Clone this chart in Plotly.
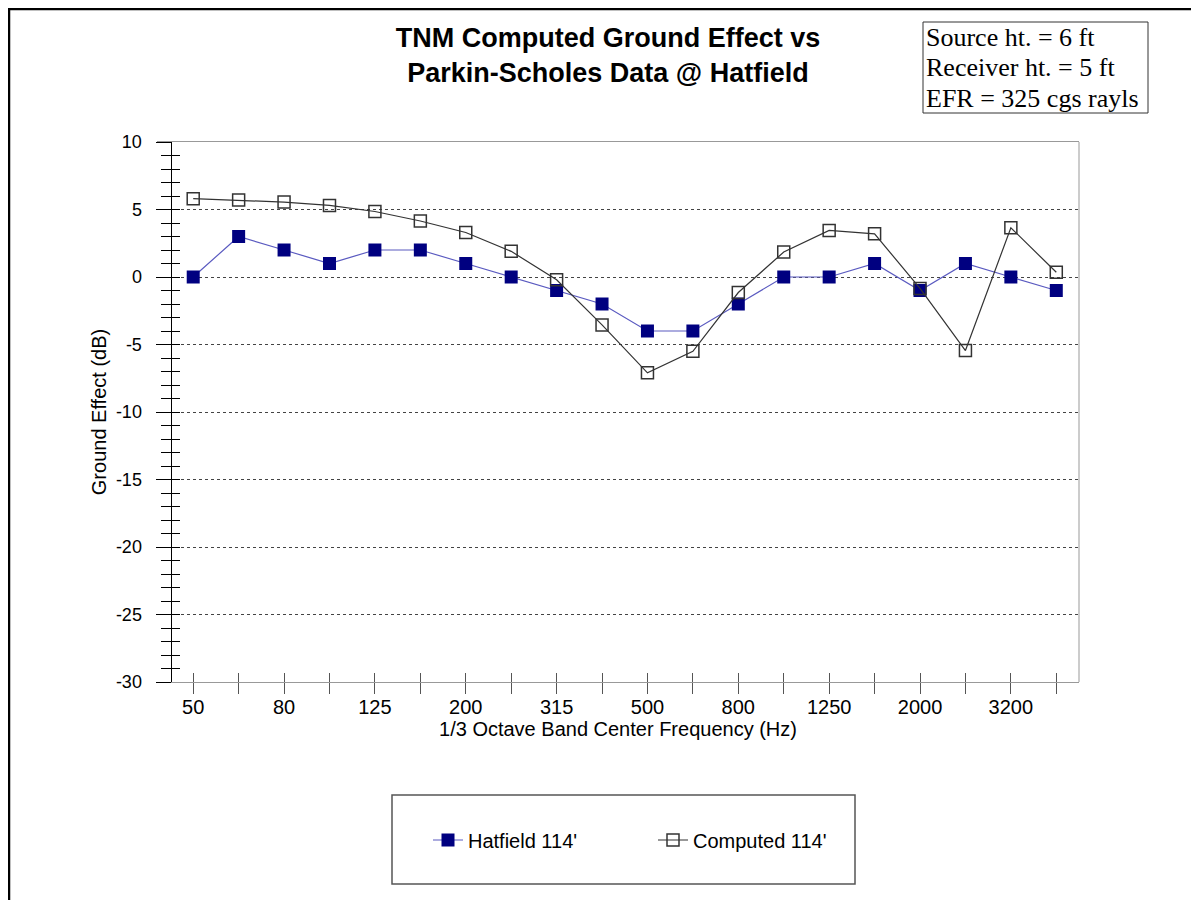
import plotly.graph_objects as go

freqs = ["50", "63", "80", "100", "125", "160", "200", "250", "315", "400",
         "500", "630", "800", "1000", "1250", "1600", "2000", "2500", "3200", "4000"]
tick_labels = ["50", "", "80", "", "125", "", "200", "", "315", "",
               "500", "", "800", "", "1250", "", "2000", "", "3200", ""]
hatfield = [0, 3, 2, 1, 2, 2, 1, 0, -1, -2, -4, -4, -2, 0, 0, 1, -1, 1, 0, -1]
computed = [5.8, 5.7, 5.55, 5.3, 4.85, 4.15, 3.3, 1.9, -0.2, -3.55,
            -7.1, -5.5, -1.15, 1.85, 3.45, 3.2, -0.85, -5.45, 3.65, 0.35]
y_major = [-30, -25, -20, -15, -10, -5, 0, 5, 10]
y_major_text = ["-30", "-25", "-20", "-15", "-10", "-5", "0", "5", "10"]
info_lines = ["Source ht. = 6 ft", "Receiver ht. = 5 ft", "EFR = 325 cgs rayls"]

# the page adds an 8px body margin, so the figure starts at page (8, 8)
OFF = 8
FIG_W, FIG_H = 1199 - OFF, 900 - OFF
# plot area in page pixels
L, R, T, B = 157, 1079, 142, 682
W, H = R - L, B - T
def px(x):
    return (x - L) / W
def py(y):
    return (B - y) / H

FONT = "Arial, Liberation Sans, sans-serif"
SERIF = "Liberation Serif, Times New Roman, serif"

fig = go.Figure()
fig.add_trace(go.Scatter(
    x=freqs, y=hatfield, name="Hatfield 114'", mode="lines+markers",
    line=dict(color="#5a5ac0", width=1.2),
    marker=dict(symbol="square", size=13, color="#000080",
                line=dict(color="#000080", width=0)),
))
fig.add_trace(go.Scatter(
    x=freqs, y=computed, name="Computed 114'", mode="lines+markers",
    line=dict(color="#333333", width=1.2),
    marker=dict(symbol="square-open", size=12, color="#333333",
                line=dict(width=1.5)),
))
# dummy trace for the overlay axes (inside tick marks)
fig.add_trace(go.Scatter(x=freqs, y=[None] * len(freqs), xaxis="x2", yaxis="y2",
                         showlegend=False, hoverinfo="skip", mode="lines"))

cat_w = W / 20.3
xr = [-0.5 - 13.5 / cat_w, 19.5]
yaxis_x = px(170.5)

fig.update_layout(
    width=FIG_W, height=FIG_H,
    paper_bgcolor="white", plot_bgcolor="white",
    margin=dict(l=L - OFF, r=FIG_W - (R - OFF), t=T - OFF, b=FIG_H - (B - OFF)),
    font=dict(family=FONT, size=20, color="black"),
    title=dict(text="<b>TNM Computed Ground Effect vs<br>Parkin-Scholes Data @ Hatfield</b>",
               x=px(608), xref="paper", xanchor="center",
               y=1 - (47 - OFF) / FIG_H, yref="container", yanchor="middle",
               font=dict(family=FONT, size=27, color="black")),
    xaxis=dict(type="category", categoryarray=freqs, range=xr,
               tickmode="array", tickvals=freqs, ticktext=tick_labels,
               ticks="outside", ticklen=11, tickcolor="#555", tickwidth=1,
               showline=True, linecolor="#999", linewidth=1, mirror=True,
               showgrid=False, zeroline=False,
               tickfont=dict(size=20), ticklabelstandoff=-4,
               title=dict(text="1/3 Octave Band Center Frequency (Hz)",
                          font=dict(size=20), standoff=2)),
    xaxis2=dict(type="category", categoryarray=freqs, range=xr, overlaying="x",
                anchor="y", side="bottom",
                tickmode="array", tickvals=freqs, ticktext=[""] * len(freqs),
                ticks="inside", ticklen=9, tickcolor="#555", tickwidth=1,
                showline=False, showgrid=False, zeroline=False),
    yaxis=dict(range=[-30, 10], tickmode="array", tickvals=y_major, ticktext=y_major_text,
               anchor="free", position=yaxis_x,
               ticks="outside", ticklen=15, tickcolor="black", tickwidth=1,
               minor=dict(dtick=1, ticks="outside", ticklen=10, tickcolor="black",
                          showgrid=False),
               showline=True, linecolor="black", linewidth=1,
               showgrid=True, gridcolor="#444", griddash="3px,3px", gridwidth=1,
               zeroline=False, tickfont=dict(size=18), ticklabelstandoff=10,
               title=dict(text="Ground Effect (dB)", font=dict(size=20), standoff=2)),
    yaxis2=dict(range=[-30, 10], overlaying="y", anchor="free", position=yaxis_x,
                tickmode="array", tickvals=y_major, ticktext=[""] * len(y_major),
                ticks="inside", ticklen=13, tickcolor="black", tickwidth=1,
                minor=dict(dtick=1, ticks="inside", ticklen=8, tickcolor="black"),
                showline=False, showgrid=False, zeroline=False, showticklabels=False),
    legend=dict(orientation="h", x=px(428), y=py(840), xref="paper", yref="paper",
                xanchor="left", yanchor="middle",
                font=dict(family=FONT, size=20, color="black"),
                bgcolor="rgba(0,0,0,0)", borderwidth=0, entrywidth=180),
    showlegend=True,
)

shapes = [
    # right frame of plot area
    dict(type="line", xref="paper", yref="paper", x0=1, x1=1, y0=0, y1=1,
         line=dict(color="#999", width=1)),
    # legend box
    dict(type="rect", xref="paper", yref="paper", x0=px(392), x1=px(855),
         y0=py(884), y1=py(795), line=dict(color="#555", width=1.5)),
    # info box
    dict(type="rect", xref="paper", yref="paper", x0=px(923), x1=px(1148),
         y0=py(113), y1=py(22), line=dict(color="#333", width=1)),
    # page border (top and left), as close to the page edge as the figure allows
    dict(type="line", xref="paper", yref="paper", x0=px(OFF), x1=px(1199),
         y0=py(OFF + 1), y1=py(OFF + 1), line=dict(color="black", width=2.5)),
    dict(type="line", xref="paper", yref="paper", x0=px(OFF + 1), x1=px(OFF + 1),
         y0=py(OFF), y1=py(900), line=dict(color="black", width=2.5)),
]
fig.update_layout(shapes=shapes)

for line_text, yc in zip(info_lines, [37, 67, 98]):
    fig.add_annotation(
        xref="paper", yref="paper", x=px(924), y=py(yc), xanchor="left", yanchor="middle",
        align="left", showarrow=False, text=line_text,
        font=dict(family=SERIF, size=26, color="black"),
    )

fig.write_html("out.html")
